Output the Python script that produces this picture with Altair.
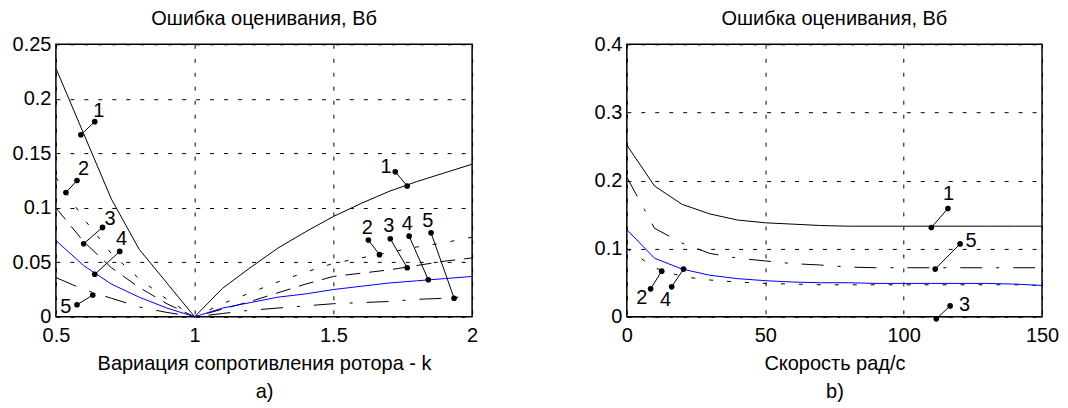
import altair as alt
import pandas as pd

FONT = "Liberation Sans"
FS = 20

# ---------- panel a) : rotor resistance variation ----------
K = [0.5, 0.6, 0.7, 0.8, 0.9, 1.0, 1.1, 1.2, 1.3, 1.4, 1.5, 1.6, 1.7, 1.8, 1.9, 2.0]
A1 = [0.228, 0.168, 0.108, 0.062, 0.031, 0.0, 0.026, 0.045, 0.063, 0.078, 0.092, 0.104, 0.115, 0.124, 0.132, 0.140]
A2 = [0.128, 0.090, 0.058, 0.035, 0.016, 0.0, 0.012, 0.022, 0.032, 0.041, 0.049, 0.054, 0.059, 0.064, 0.068, 0.073]
A3 = [0.100, 0.069, 0.045, 0.027, 0.012, 0.0, 0.007, 0.014, 0.022, 0.030, 0.037, 0.040, 0.043, 0.047, 0.051, 0.054]
A4 = [0.070, 0.047, 0.030, 0.018, 0.008, 0.0, 0.008, 0.013, 0.018, 0.021, 0.025, 0.028, 0.031, 0.033, 0.035, 0.037]
A5 = [0.036, 0.025, 0.017, 0.009, 0.004, 0.0, 0.003, 0.006, 0.008, 0.010, 0.012, 0.013, 0.014, 0.016, 0.017, 0.019]

LA_T = ["1", "2", "3", "4", "5", "1", "2", "3", "4", "5"]
LA_X1 = [0.590, 0.536, 0.600, 0.640, 0.576, 1.723, 1.626, 1.705, 1.773, 1.852]
LA_Y1 = [0.167, 0.114, 0.067, 0.039, 0.011, 0.133, 0.0705, 0.0716, 0.074, 0.077]
LA_X2 = [0.640, 0.576, 0.668, 0.730, 0.633, 1.766, 1.666, 1.766, 1.842, 1.935]
LA_Y2 = [0.179, 0.125, 0.082, 0.060, 0.020, 0.120, 0.057, 0.045, 0.034, 0.017]
LA_TX = [0.655, 0.600, 0.695, 0.737, 0.536, 1.690, 1.622, 1.700, 1.766, 1.840]
LA_TY = [0.189, 0.136, 0.090, 0.071, 0.009, 0.137, 0.0815, 0.083, 0.085, 0.088]

# ---------- panel b) : speed ----------
S = [0, 10, 20, 30, 40, 50, 60, 70, 80, 90, 100, 110, 120, 130, 140, 150]
B1 = [0.252, 0.192, 0.165, 0.151, 0.142, 0.138, 0.136, 0.134, 0.133, 0.133, 0.133, 0.133, 0.133, 0.133, 0.133, 0.133]
B2 = [0.100, 0.072, 0.059, 0.054, 0.051, 0.049, 0.048, 0.047, 0.047, 0.047, 0.047, 0.047, 0.047, 0.047, 0.047, 0.046]
B3 = [0.0, 0.0, 0.0, 0.0, 0.0, 0.0, 0.0, 0.0, 0.0, 0.0, 0.0, 0.0, 0.0, 0.0, 0.0, 0.0]
B4 = [0.128, 0.086, 0.070, 0.061, 0.056, 0.053, 0.051, 0.050, 0.050, 0.049, 0.049, 0.049, 0.049, 0.049, 0.048, 0.046]
B5 = [0.205, 0.130, 0.108, 0.093, 0.086, 0.082, 0.078, 0.076, 0.073, 0.072, 0.072, 0.072, 0.072, 0.072, 0.072, 0.072]

LB_T = ["1", "2", "3", "4", "5"]
LB_X1 = [110.0, 12.6, 111.8, 20.5, 111.4]
LB_Y1 = [0.131, 0.067, -0.003, 0.070, 0.070]
LB_X2 = [116.0, 8.6, 116.8, 16.2, 120.4]
LB_Y2 = [0.159, 0.041, 0.016, 0.044, 0.107]
LB_TX = [116.2, 5.4, 122.0, 14.0, 124.4]
LB_TY = [0.180, 0.028, 0.0176, 0.025, 0.111]

TITLE = "Ошибка оценивания, Вб"

STYLES = {
    "1": dict(color="black"),
    "2": dict(color="black", strokeDash=[4, 14]),
    "3": dict(color="black", strokeDash=[15, 9]),
    "4": dict(color="#0000ff"),
    "5": dict(color="black", strokeDash=[22, 14, 3, 14]),
}


def panel(xs, ys_list, lx1, ly1, lx2, ly2, ltx, lty, lt,
          xdom, xvals, xfmt, ydom, yvals, yfmt, xtitle, width):
    xax = alt.Axis(values=xvals, format=xfmt, grid=True, gridDash=[4, 10],
                   gridColor="black", gridOpacity=1, ticks=False, domain=False,
                   labelFont=FONT, labelFontSize=FS, labelColor="black",
                   labelPadding=9, labelFlush=False, title=xtitle, titleFont=FONT,
                   titleFontSize=FS, titleFontWeight="normal", titleColor="black",
                   titleLineHeight=28, titlePadding=8)
    yax = alt.Axis(values=yvals, format=yfmt, grid=True, gridDash=[4, 10],
                   gridColor="black", gridOpacity=1, ticks=False, domain=False,
                   labelFont=FONT, labelFontSize=FS, labelColor="black",
                   labelPadding=5, labelFlush=False, title=None)
    xs_ = alt.Scale(domain=xdom, nice=False, zero=False)
    ys_ = alt.Scale(domain=ydom, nice=False, zero=False)

    layers = []
    for name, ys in zip(["1", "2", "3", "4", "5"], ys_list):
        df = pd.DataFrame({"x": xs, "y": ys})
        layers.append(
            alt.Chart(df).mark_line(strokeWidth=1, **STYLES[name]).encode(
                x=alt.X("x:Q", scale=xs_, axis=xax),
                y=alt.Y("y:Q", scale=ys_, axis=yax),
            )
        )
    ann = pd.DataFrame({"x1": lx1, "y1": ly1, "x2": lx2, "y2": ly2,
                        "tx": ltx, "ty": lty, "t": lt})
    layers.append(alt.Chart(ann).mark_rule(color="black", strokeWidth=1).encode(
        x=alt.X("x1:Q", scale=xs_, axis=xax), y=alt.Y("y1:Q", scale=ys_, axis=yax),
        x2="x2:Q", y2="y2:Q"))
    layers.append(alt.Chart(ann).mark_circle(color="black", opacity=1, size=32).encode(
        x=alt.X("x1:Q", scale=xs_, axis=xax), y=alt.Y("y1:Q", scale=ys_, axis=yax)))
    layers.append(alt.Chart(ann).mark_circle(color="black", opacity=1, size=32).encode(
        x=alt.X("x2:Q", scale=xs_, axis=xax), y=alt.Y("y2:Q", scale=ys_, axis=yax)))
    layers.append(alt.Chart(ann).mark_text(font=FONT, fontSize=FS, color="black",
                                           align="center", baseline="middle").encode(
        x=alt.X("tx:Q", scale=xs_, axis=xax), y=alt.Y("ty:Q", scale=ys_, axis=yax),
        text="t:N"))
    return alt.layer(*layers).properties(width=width, height=273, title=TITLE)


left = panel(K, [A1, A2, A3, A4, A5], LA_X1, LA_Y1, LA_X2, LA_Y2, LA_TX, LA_TY, LA_T,
             [0.5, 2], [0.5, 1, 1.5, 2], ".1~f", [0, 0.25],
             [0, 0.05, 0.1, 0.15, 0.2, 0.25], ".2~f",
             ["Вариация сопротивления ротора - k", "a)"], 417)
right = panel(S, [B1, B2, B3, B4, B5], LB_X1, LB_Y1, LB_X2, LB_Y2, LB_TX, LB_TY, LB_T,
              [0, 150], [0, 50, 100, 150], "d", [0, 0.4],
              [0, 0.1, 0.2, 0.3, 0.4], ".1~f",
              ["Скорость рад/с", "b)"], 416)

chart = alt.hconcat(left, right, spacing=155, bounds="flush").properties(
    padding={"left": 3, "top": 0, "right": 0, "bottom": 0},
    background="white",
).configure_view(
    stroke="black", strokeWidth=1.5
).configure_title(
    font=FONT, fontSize=FS, fontWeight="normal", color="black",
    anchor="middle", baseline="bottom", offset=5,
)

chart.save("out.html", embed_options={"renderer": "svg", "actions": False})
